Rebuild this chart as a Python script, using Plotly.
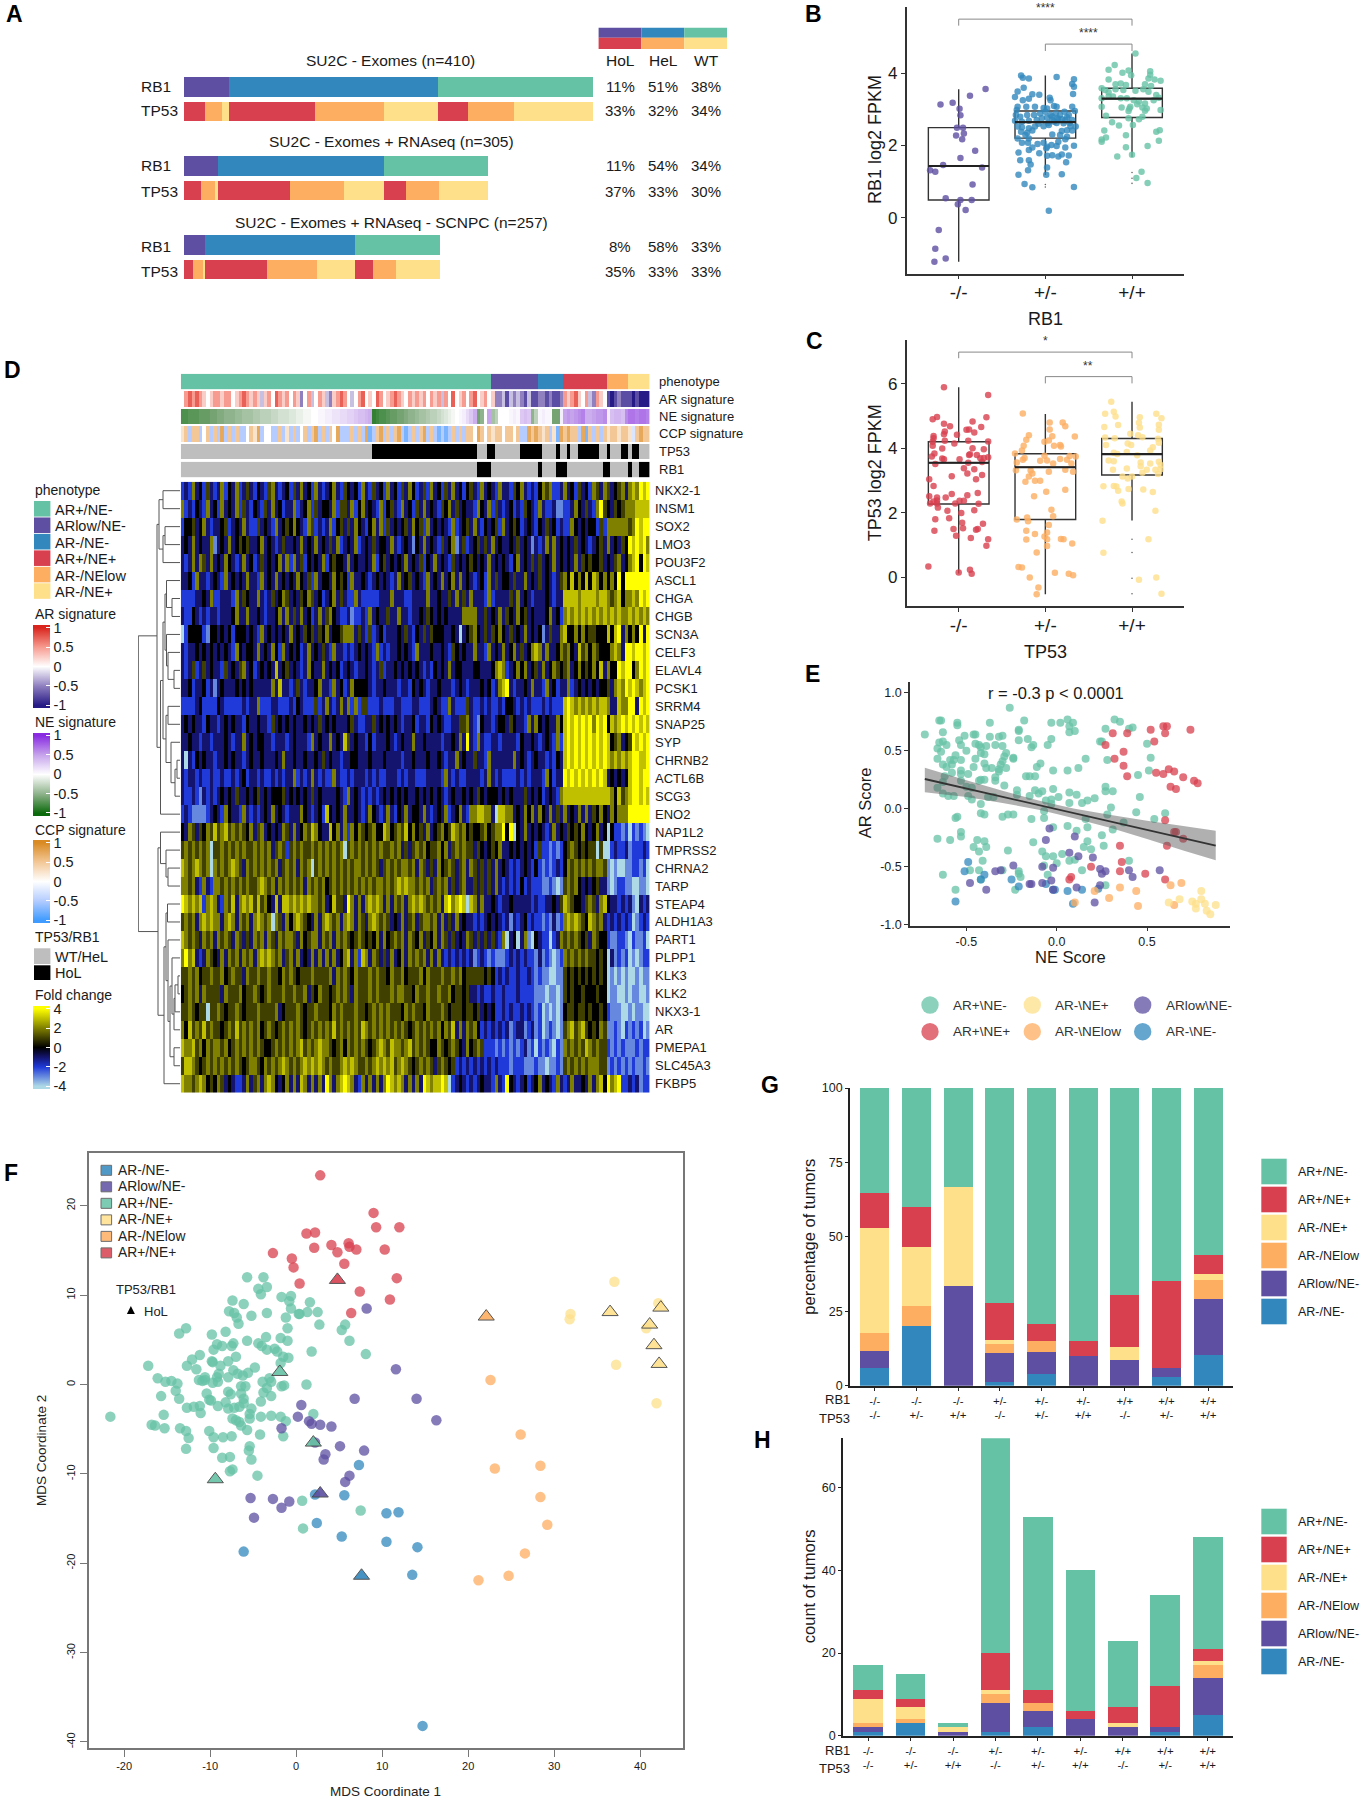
"""Multi-panel figure: RB1/TP53 alteration bars, expression boxplots, phenotype heatmap,
AR/NE scatter, MDS map and per-genotype stacked bars. Everything sits on one pixel-placed canvas."""
import plotly.graph_objects as go

W, H = 1361, 1800
GREEN, RED, YELLOW = "#66C2A5", "#D8404F", "#FEE08B"
ORANGE, PURPLE, BLUE = "#FDAE61", "#5E4FA2", "#3288BD"
FONT = "Liberation Sans"

# --- panel A: sample counts per segment
A_TITLES = ["SU2C - Exomes (n=410)", "SU2C - Exomes + RNAseq (n=305)", "SU2C - Exomes + RNAseq - SCNPC (n=257)"]
A_RB1 = [[45, 210, 155], [34, 166, 105], [21, 150, 86]]
A_TP53 = [[21, 17, 7, 86, 69, 55, 30, 46, 79], [17, 14, 3, 72, 54, 40, 23, 33, 49], [9, 10, 2, 62, 50, 38, 18, 24, 44]]
A_PCT_RB1 = [["11%", "51%", "38%"], ["11%", "54%", "34%"], ["8%", "58%", "33%"]]
A_PCT_TP53 = [["33%", "32%", "34%"], ["37%", "33%", "30%"], ["35%", "33%", "33%"]]
A_ROWS = [0, 1, 3.23, 4.23, 6.46, 7.46]

# --- panels B, C: box stats (q1, median, q3, low, high) and jittered samples
GENO = ["-/-", "+/-", "+/+"]
B_BOX = [(0.49, 1.43, 2.49, -1.22, 3.55), (2.2, 2.64, 2.95, 1.18, 3.93), (2.77, 3.29, 3.58, 1.68, 4.54)]
C_BOX = [(2.27, 3.55, 4.2, 0.12, 5.89), (1.79, 3.41, 3.83, -0.53, 5.06), (3.17, 3.82, 4.3, 1.76, 5.44)]
B_HOM = [(.79, 3.13), (.93, 3.18), (1.13, 3.37), (1.31, 3.56), (1.01, 3.01), (1.02, 2.83), (.98, 2.49), (1.05, 2.49),
         (.97, 2.27), (1.06, 2.33), (1.04, 2.17), (1.19, 1.85), (1.02, 1.65), (.82, 1.46), (.67, 1.31), (.73, 1.27),
         (1.27, 1.39), (1.16, .92), (.85, .54), (1.02, .49), (1.15, .49), (.99, .37), (1.08, .21), (.77, -.34),
         (.73, -.86), (.85, -1.13), (.72, -1.22)]
B_HET = [(1.72, 3.93), (1.74, 3.87), (1.81, 3.85), (2.13, 3.89), (2.33, 3.83), (2.31, 3.7), (2.33, 3.62), (1.68, 3.49),
         (1.75, 3.59), (1.85, 3.41), (1.93, 3.4), (1.81, 3.29), (1.65, 3.34), (1.74, 3.25), (2.05, 3.32), (2.06, 3.25),
         (2.32, 3.42), (1.68, 3.07), (1.67, 2.98), (1.78, 3.07), (1.88, 3.07), (1.98, 3.03), (2.02, 3.02), (2.1, 3.09),
         (2.13, 3.07), (2.22, 2.93), (2.31, 3.07), (2.34, 2.95), (1.66, 2.84), (1.71, 2.79), (1.79, 2.84), (1.87, 2.84),
         (1.94, 2.88), (2.0, 2.93), (2.06, 2.84), (2.12, 2.88), (2.17, 2.84), (2.27, 2.84), (1.65, 2.68), (1.73, 2.65),
         (1.81, 2.68), (1.9, 2.7), (1.96, 2.75), (2.02, 2.77), (2.08, 2.7), (2.15, 2.72), (2.23, 2.7), (2.31, 2.7),
         (1.68, 2.52), (1.73, 2.5), (1.81, 2.47), (1.88, 2.52), (1.98, 2.53), (2.04, 2.56), (2.1, 2.65), (2.21, 2.61),
         (2.29, 2.53), (2.35, 2.52), (1.72, 2.38), (1.79, 2.35), (1.85, 2.41), (2.19, 2.4), (2.25, 2.42), (2.31, 2.41),
         (1.68, 2.19), (1.77, 2.29), (1.81, 2.19), (2.08, 2.3), (2.17, 2.29), (2.25, 2.24), (1.73, 2.07), (1.8, 2.07),
         (2.07, 2.01), (2.15, 2.1), (2.23, 2.17), (2.33, 1.99), (1.85, 1.94), (1.91, 2.04), (1.98, 2.07), (2.02, 1.96),
         (2.13, 1.98), (2.23, 1.94), (1.69, 1.8), (1.81, 1.87), (1.93, 1.78), (2.01, 1.92), (2.02, 1.71), (2.08, 1.73),
         (2.15, 1.69), (2.19, 1.75), (2.27, 1.72), (1.71, 1.59), (1.81, 1.59), (1.83, 1.47), (2.24, 1.53), (2.02, 1.39),
         (1.8, 1.31), (1.69, 1.19), (2.01, 1.19), (2.19, 1.2), (1.76, .93), (1.85, .84), (2.33, .85), (2.04, .19),
         (2.08, 2.8), (2.14, 2.75), (2.19, 2.72), (2.25, 2.78), (2.03, 2.62), (2.13, 2.62), (2.28, 2.62), (1.92, 2.6)]
B_WT = [(3.04, 4.54), (2.8, 4.22), (2.73, 4.09), (2.89, 4.01), (2.96, 4.07), (2.99, 3.94), (3.21, 4.05), (3.21, 3.95),
        (2.73, 3.82), (3.19, 3.85), (3.26, 3.82), (3.33, 3.79), (2.81, 3.69), (2.87, 3.71), (2.93, 3.67), (3.15, 3.69),
        (3.22, 3.64), (2.65, 3.58), (2.69, 3.53), (2.73, 3.47), (2.81, 3.55), (2.9, 3.53), (3.04, 3.51), (3.13, 3.55),
        (3.19, 3.48), (3.28, 3.39), (3.31, 3.32), (2.65, 3.3), (2.73, 3.35), (2.78, 3.35), (2.87, 3.3), (2.94, 3.3),
        (3.02, 3.25), (3.08, 3.21), (3.15, 3.16), (3.25, 3.25), (2.65, 3.07), (2.88, 3.05), (2.98, 3.07), (3.06, 3.14),
        (3.12, 3.05), (3.17, 3.02), (3.33, 2.98), (2.7, 2.82), (2.96, 2.95), (2.97, 3.02), (3.15, 2.96), (3.12, 2.79),
        (2.96, 2.75), (3.08, 2.72), (2.77, 2.64), (2.85, 2.55), (3.01, 2.56), (2.68, 2.41), (3.32, 2.42), (3.28, 2.38),
        (2.7, 2.22), (2.65, 2.16), (2.65, 2.1), (2.93, 2.28), (3.31, 2.13), (2.93, 1.95), (3.18, 1.98), (2.83, 1.69),
        (3.0, 1.74), (3.11, 1.27), (3.05, 1.1), (3.18, .96)]
B_OUT = [(2, .92), (2, .85), (3, 1.25), (3, 1.09), (3, .95)]
C_HOM = [(.83, 5.89), (1.34, 5.65), (.7, 4.9), (.75, 4.97), (1.32, 4.96), (.83, 4.76), (.9, 4.68), (1.16, 4.83), (1.26, 4.66),
         (.84, 4.52), (.83, 4.43), (1.09, 4.57), (1.12, 4.58), (1.18, 4.49), (.71, 4.38), (.71, 4.31), (.98, 4.42), (.7, 4.2),
         (.84, 4.23), (.95, 4.15), (1.11, 4.23), (1.34, 4.21), (.7, 4.08), (.81, 3.99), (1.29, 3.97), (1.16, 4.0), (.72, 3.84),
         (.69, 3.74), (.83, 3.66), (.81, 3.68), (1.01, 3.66), (1.12, 3.79), (1.13, 3.81), (1.21, 3.79), (1.25, 3.69), (1.34, 3.72),
         (1.29, 3.7), (1.27, 3.57), (1.11, 3.55), (.73, 3.51), (1.06, 3.38), (1.18, 3.35), (.92, 3.13), (1.1, 3.22), (1.27, 3.17),
         (.66, 3.04), (1.2, 3.04), (.71, 2.83), (.92, 2.58), (.66, 2.51), (.75, 2.47), (.75, 2.38), (.71, 2.35), (.67, 2.29),
         (.75, 2.29), (.85, 2.47), (1.22, 2.61), (1.1, 2.54), (.96, 2.29), (1.01, 2.37), (1.06, 2.37), (1.23, 2.28), (.76, 2.16),
         (.87, 2.06), (1.03, 1.99), (1.18, 2.08), (.73, 1.8), (.89, 1.83), (1.04, 1.69), (1.28, 1.66), (1.05, 1.52), (.72, 1.44),
         (.94, 1.5), (1.22, 1.5), (1.2, 1.47), (.97, 1.29), (1.14, 1.22), (1.34, 1.18), (1.32, .98), (.65, .33), (1.0, .15),
         (1.13, .23), (1.15, .11)]
C_HET = [(1.74, 5.08), (2.05, 4.8), (2.2, 4.8), (2.23, 4.68), (2.05, 4.58), (1.81, 4.4), (2.08, 4.37), (2.34, 4.36), (1.78, 4.26),
         (1.99, 4.2), (2.04, 4.24), (1.75, 4.08), (2.1, 4.08), (2.17, 4.1), (2.18, 4.05), (1.73, 3.93), (1.65, 3.84), (1.99, 3.77),
         (1.76, 3.7), (1.74, 3.64), (2.28, 3.76), (2.35, 3.74), (1.67, 3.56), (1.94, 3.61), (2.02, 3.62), (2.09, 3.53), (2.17, 3.67),
         (2.25, 3.64), (2.3, 3.53), (1.66, 3.32), (1.83, 3.31), (1.85, 3.22), (2.04, 3.27), (2.23, 3.33), (2.32, 3.27), (1.81, 3.12),
         (1.77, 2.96), (1.88, 2.99), (1.94, 2.99), (2.23, 2.71), (2.01, 2.65), (1.87, 2.51), (2.07, 2.09), (2.09, 1.89), (1.67, 1.79),
         (1.79, 1.85), (1.8, 1.74), (2.04, 1.62), (1.78, 1.44), (1.88, 1.34), (2.02, 1.39), (1.99, 1.26), (2.02, 1.18), (1.78, 1.17),
         (2.18, 1.19), (2.21, 1.18), (2.31, 1.05), (2.02, .97), (1.9, .77), (1.69, .32), (1.73, .3), (2.11, .14), (2.27, .11),
         (2.32, .06), (1.82, -.01), (1.92, -.32), (1.9, -.53)]
C_WT = [(2.76, 5.44), (2.69, 5.07), (2.79, 5.13), (2.81, 4.98), (3.28, 5.07), (3.34, 4.93), (3.09, 4.96), (3.08, 4.79), (3.31, 4.73),
        (2.84, 4.72), (2.68, 4.66), (3.09, 4.64), (3.31, 4.57), (2.98, 4.45), (3.07, 4.4), (3.12, 4.34), (2.69, 4.33), (2.8, 4.31),
        (3.3, 4.29), (2.95, 4.15), (2.99, 4.1), (2.7, 4.1), (3.31, 4.17), (3.24, 4.03), (2.79, 3.86), (2.83, 3.82), (2.94, 3.88),
        (3.06, 3.78), (3.21, 3.93), (2.73, 3.62), (2.79, 3.6), (3.1, 3.56), (3.21, 3.53), (3.31, 3.58), (3.1, 3.44), (3.33, 3.48),
        (2.78, 3.33), (2.94, 3.37), (3.17, 3.33), (3.27, 3.33), (3.33, 3.35), (3.12, 3.24), (3.3, 3.2), (2.89, 3.12), (3.0, 3.12),
        (2.95, 3.06), (2.67, 2.82), (2.79, 2.83), (2.82, 2.81), (2.84, 2.68), (2.96, 2.74), (3.13, 2.72), (3.24, 2.64), (2.88, 2.35),
        (2.89, 2.29), (3.27, 2.06), (2.66, 1.75), (3.19, 1.18), (2.67, .76), (3.08, -.08), (3.28, -.01), (3.34, -.51)]
C_OUT = [(3, 1.18), (3, .77), (3, -.03), (3, -.51)]

# --- panel D: one digit per column, level = digit - 4 (fold change)
GENES = ["NKX2-1", "INSM1", "SOX2", "LMO3", "POU3F2", "ASCL1", "CHGA", "CHGB", "SCN3A", "CELF3", "ELAVL4", "PCSK1", "SRRM4",
         "SNAP25", "SYP", "CHRNB2", "ACTL6B", "SCG3", "ENO2", "NAP1L2", "TMPRSS2", "CHRNA2", "TARP", "STEAP4", "ALDH1A3",
         "PART1", "PLPP1", "KLK3", "KLK2", "NKX3-1", "AR", "PMEPA1", "SLC45A3", "FKBP5"]
HEAT_ROWS = [
    "2326342532 3624362353 2432563234 2536342632 3463254342 6325342634 2536423526 3425363424 5326343263 3254632324 6562236342 5342653653 4563676878",
    "6232432634 2634362532 4325363423 3623462534 4362553624 6343262453 2634253634 3254635343 3264362532 3423254326 3223112236 4353268543 5456667777",
    "2445346323 3452343632 2534326345 4643265232 3624535364 3246362534 3453645263 4343262345 3632434526 3454234324 3534232264 3434425266 6666568788",
    "3436343361 3436345453 3463432353 3436343634 3536234362 3435344363 2343143634 3253461352 3453536343 3435343132 3636343435 3432345363 4354878786",
    "3236365363 4364323634 2353434636 2635243436 2454436343 3436245343 4363435243 6343253434 5434363434 3246343535 3436343436 3545445343 5634678487",
    "3342633234 3263434363 3263436343 4364352634 4364542633 4323434323 6345343263 4363463634 3234263534 4353363435 3432356474 6474764646 4848888888",
    "2222334362 2333263543 3632353465 3435465342 3463532263 2222233363 3322333363 3433536353 6333262333 3536343233 3432337777 6777767765 6746676878",
    "3224323233 2333463363 3432334636 3536342363 5643223122 3263433533 6332334354 3434333366 6633534363 5436453433 3463426767 6767676767 6766767676",
    "0244442144 3434244434 3263434343 6343545354 6344566635 3252342333 4353243535 4443343034 5643535464 3534363434 1353367446 4645544474 7836464838",
    "3233434343 4343264344 3634364263 4342363435 3263323234 3432623233 4343263334 3343254343 3633263436 3463534676 3633465643 7564654446 7638878878",
    "3235235343 3253435634 2343437345 3432364336 3434234323 3432352334 3434343232 4343634433 3443334676 2346463453 6346545634 6454647364 4878846878",
    "3342334231 3433343434 3333363733 2353233463 3263423644 4432334333 2332434323 3433323432 3334342367 8323343633 2634233623 4343434453 6768787678",
    "2222342222 4322222323 3622233222 3243222523 6323636262 5522232223 3222332223 4322632225 3223232232 4432323222 3232227876 7676767763 3766883878",
    "3434332433 2343433243 3433253434 3433434353 4343334532 2335343434 3233423324 3432233556 3214332344 3543326364 3433647878 7878687847 6787878787",
    "3343323323 3343233634 3443323332 3433326343 3634375343 3242333432 3433633433 3323343638 3263223323 3332433432 3432627878 7878787874 5634587878",
    "3032434332 3343433234 3343334363 3433433435 3433233443 3343334333 3233433343 3432336343 3533263333 3363432343 3232437878 7878787876 7676788778",
    "3233232232 2322323423 3232232323 3623236323 2263223233 3232322333 2323322233 3326323223 3332363232 2223232333 2642338787 8787878734 3434788788",
    "3223213232 3434353343 4534344453 4343435343 3334326343 2323234343 4343343434 3432343343 4354344434 3433353434 2343267777 7777777776 4756788787",
    "2321111234 3264332632 3234363432 3336432342 7434363343 2364323632 4363443632 3436234632 6677663077 6634364636 4363536343 6363546436 4666888888",
    "4365354657 5675656546 3563434365 3634657643 3746362646 5456447645 6574645363 4564576564 5445645668 4804363434 3236343545 4643463404 2212021210",
    "5656565605 5656565655 6565635652 5656556565 6565605656 5656565565 6353565645 5646356565 5354345463 3434343425 2212124565 4545505002 3223122232",
    "7656765606 5656765365 6565656356 5636560565 6565656566 5656535656 5665636535 3645653563 6535353634 3232343242 1212324656 5656566510 1001122120",
    "6656326326 6565656565 5676563656 5656365656 4565656565 6565665656 7676656563 5656353563 3535353632 3232423222 1121015656 4343453310 1221100110",
    "8767672676 3265736767 5756437377 6767676656 3475538636 3676763636 5636767656 5637867870 7636334323 3433333232 2334357654 4356536743 3232310323",
    "5656367676 6367636563 6765606536 4676543636 7656367636 5367656534 3635635665 6363536343 3232343432 3132342322 1213126767 6547656323 2323201232",
    "7656536563 6565365353 6563653656 6536456636 5636565456 5454636456 5636546354 6365353436 5353535326 0340361043 2202365656 5453654421 1221021120",
    "6867323654 3636563656 3676765635 6363436363 6363467362 7636535363 4636565636 3632323232 3123212111 2323232213 1210126565 6565545403 1212010122",
    "5565645565 5645655365 5655655465 6545556555 5636565465 5565655465 5645556465 5565565645 5555454232 3223223212 1100115454 5454545401 0101001011",
    "4565636555 5365556455 6545655565 5655635465 5456565365 5565655565 6655465565 5655645545 3323223223 2223222211 1011015454 4544454401 1001011001",
    "5565455055 6545565455 5655556345 5565455655 5465655565 5456565655 5465655465 5565455545 5453434223 2322323212 0101014554 5545445421 1100101100",
    "6475657565 5456575656 5645654565 6565456565 6575656565 7656565656 5654565656 5646573636 5642323232 3123312312 0121015675 6754546511 2102121201",
    "7667564656 6564565656 5654456565 6567565676 6545646565 6545676576 6567565654 4654565436 4565222121 2121231202 1210216565 6576565521 2121112122",
    "5776545656 5656565456 6546565676 5656767676 5655676765 5656767675 6765456565 3565452323 2323232322 2122211121 1011215656 5656665512 1212121121",
    "7665676454 6534322363 5636764346 3637636363 8636787632 6363636876 7636363876 7787023432 3234332632 8432342346 3432632363 3436367486 7822323122",
]
# column annotation tracks (same 130 columns); signature level = (digit - 4) / 4
PHENO_COLS = "0" * 86 + "1" * 13 + "2" * 7 + "3" * 12 + "4" * 6 + "5" * 6
AR_SIG = ("4676765456 6566456765 6535647656 4652463465 3256764346 7454764567 6546565646 5636474564 "
          "6745645223 1323213112 2121126567 5463265410 1211101000")
CCP_SIG = ("5626624626 2726262246 5724422625 2624626726 2647222626 2712672626 7212626726 2121262626 "
           "6476465664 6646227676 5625176766 2716262656 6566536766")
NE_SIG = [-.75, -.75, -.7, -.7, -.7, -.65, -.65, -.65, -.6, -.6, -.55, -.55, -.5, -.5, -.5, -.45, -.45, -.4, -.4, -.4,
          -.35, -.35, -.3, -.3, -.3, -.25, -.25, -.2, -.2, -.2, -.15, -.15, -.1, -.1, -.05, -.05, 0, 0, .05, .05,
          .1, .1, .15, .15, .2, .2, .25, .25, .3, .35, .35, .4, .45,
          -.85, -.8, -.75, -.75, -.7, -.65, -.65, -.6, -.6, -.55, -.5, -.5, -.45, -.4, -.4, -.35, -.3, -.3, -.25, -.2,
          -.15, -.1, -.05, 0, .05, .1, .2, .3, .45,
          -.6, -.5, 0, .5, -.4, -.3, 0, 0, 0, .05, .1, .05, .3, .35, .3, -.5, -.3, .05, .1, .05, .05, -.6, -.6, .1,
          .5, .55, .5, .55, .6, .65, .45, .45, .5, .55, .55, .6, .1, .35, .4, .4, .35, .6, .7, .7, .65, .7, .7, .65]
TP53_HOL = ("0000000000 0000000000 0000000000 0000000000 0000000000 0001111111 1111111111 1111111111 "
            "1100011000 0000111111 0000100100 1111110010 0011011000")
RB1_HOL = ("0000000000 0000000000 0000000000 0000000000 0000000000 0000000000 0000000000 0000000000 "
           "0011110000 0000000001 0000111000 0000000110 0000100111")
TRACK_NAMES = ["phenotype", "AR signature", "NE signature", "CCP signature", "TP53", "RB1"]
# gene dendrogram: (merge height in canvas px, left, right), leaves are row numbers
GENE_TREE = (41.7,
             (23, (21, (17, 0, 1), (17, (15, 2, 3), 4)),
              (19.5, (17, (15, (13.5, 5, (8, 6, 7)), (13.5, 8, (12, 9, (6, 10, 11)))),
                      (14, (12, 12, 13), (9, 14, (5, (3, 15, 16), 17)))), 18)),
             (22, (19.5, 19, (14, 20, (12, 21, 22))),
              (16, (14, (12.5, 23, 24), (12, 25, (10, (8, 26, (6, (5, (2, 27, 28), 29), 30)), (6, 31, 32)))), 33)))

# --- panel E: NE score, AR score
E_GREEN = [(-.73, .64), (-.65, .76), (-.64, .76), (-.55, .74), (-.55, .72), (-.37, .74), (-.18, .76), (-.26, .87), (-.03, .74),
           (.02, .74), (.06, .77), (.09, .74), (.07, .71), (.07, .66), (.1, .67), (.27, .69), (.32, .77), (.35, .75), (.4, .69),
           (.42, .7), (-.63, .66), (-.51, .63), (-.46, .64), (-.45, .64), (-.37, .62), (-.32, .62), (-.3, .63), (-.21, .68),
           (-.21, .67), (-.21, .59), (-.16, .6), (-.14, .53), (-.13, .55), (-.03, .6), (-.05, .55), (.24, .58), (.25, .58),
           (.5, .56), (-.54, .59), (-.53, .55), (-.65, .57), (-.63, .58), (-.61, .55), (-.66, .52), (-.64, .49), (-.45, .56),
           (-.43, .55), (-.42, .53), (-.39, .54), (-.34, .55), (-.3, .54), (-.5, .5), (-.56, .46), (-.4, .47), (-.42, .48),
           (-.28, .48), (-.24, .44), (-.24, .43), (-.66, .43), (-.63, .38), (-.59, .42), (-.57, .42), (-.58, .38), (-.53, .42),
           (-.45, .43), (-.4, .39), (-.29, .45), (-.3, .41), (-.31, .38), (.16, .43), (.28, .42), (.52, .44), (-.61, .36),
           (-.58, .31), (-.53, .33), (-.53, .3), (-.49, .3), (-.46, .36), (-.39, .35), (-.36, .35), (-.32, .34), (-.28, .35),
           (-.32, .32), (-.11, .36), (-.09, .39), (-.02, .33), (.06, .33), (.12, .35), (.51, .33), (.45, .29), (-.17, .28),
           (-.15, .28), (-.12, .28), (-.34, .27), (-.34, .24), (-.42, .25), (-.4, .25), (-.43, .24), (-.62, .28), (-.63, .23),
           (-.53, .24), (-.29, .2), (-.5, .19), (-.47, .18), (-.66, .18), (-.63, .13), (-.6, .11), (-.57, .11), (-.49, .11),
           (-.47, .08), (-.38, .1), (-.35, .1), (-.42, .04), (-.22, .16), (-.22, .12), (-.15, .11), (-.12, .16), (-.1, .13),
           (-.08, .15), (-.02, .17), (.07, .14), (.11, .12), (.27, .19), (.27, .15), (.31, .15), (.46, .1), (-.06, .07),
           (.01, .1), (-.03, .08), (.07, .05), (.14, .05), (.17, .07), (.21, .09), (-.03, .04), (.3, .01), (-.42, -.04),
           (-.4, -.05), (-.56, -.08), (-.55, -.07), (-.3, -.07), (-.27, -.05), (-.24, -.05), (-.14, -.09), (-.07, -.02),
           (-.07, -.08), (.28, -.05), (.44, -.03), (.6, -.04), (.54, -.09), (.16, -.09), (.37, -.12), (-.02, -.16), (.06, -.15),
           (.17, -.16), (.11, -.19), (.31, -.18), (-.53, -.2), (-.53, -.24), (-.66, -.26), (-.59, -.27), (.25, -.23), (-.44, -.27),
           (-.4, -.28), (-.46, -.33), (-.39, -.33), (-.13, -.29), (.17, -.28), (.15, -.33), (.19, -.35), (.26, -.32), (-.43, -.37),
           (-.27, -.36), (-.08, -.37), (-.41, -.45), (-.06, -.41), (-.02, -.41), (.03, -.39), (-.07, -.49), (0, -.47), (.07, -.45),
           (.1, -.44), (.14, -.53), (.4, -.45), (-.48, -.53), (-.43, -.53), (-.3, -.53), (-.63, -.57), (-.21, -.54), (-.21, -.56),
           (-.2, -.59), (-.05, -.57), (-.42, -.61), (-.56, -.7), (-.23, -.7), (.27, -.66)]
E_BLUE = [(-.49, -.46), (-.51, -.54), (-.4, -.57), (-.42, -.61), (-.25, -.61), (-.21, -.67), (-.06, -.65), (-.02, -.7), (-.01, -.7),
          (.06, -.71), (.14, -.7), (.23, -.69), (-.56, -.8), (.09, -.82)]
E_PURPLE = [(-.04, -.17), (-.06, -.27), (.1, -.24), (.07, -.38), (.12, -.41), (.2, -.42), (-.24, -.49), (-.34, -.54), (-.31, -.53),
            (-.08, -.5), (-.02, -.51), (.24, -.52), (.27, -.54), (.25, -.56), (.4, -.53), (.57, -.53), (.42, -.59), (-.48, -.64),
            (-.39, -.7), (-.15, -.65), (-.14, -.65), (-.08, -.64), (-.03, -.62), (.24, -.66), (-.02, -.7), (.11, -.68), (.21, -.81)]
E_RED = [(.31, .65), (.39, .65), (.52, .68), (.59, .71), (.61, .71), (.6, .65), (.74, .68), (.54, .58), (.27, .55), (.37, .49),
         (.32, .43), (.37, .37), (.39, .28), (.55, .31), (.59, .3), (.62, .34), (.65, .32), (.7, .27), (.76, .24), (.78, .22),
         (.63, .19), (.66, .17), (.6, -.1), (.65, -.2), (.66, -.2), (.7, -.26), (.61, -.32), (.35, -.32), (.36, -.46), (.19, -.5),
         (.35, -.54), (.49, -.56), (.6, -.61), (.08, -.59), (.07, -.61)]
E_ORANGE = [(.63, -.66), (.69, -.64), (.35, -.68), (.44, -.71), (.21, -.71), (.29, -.77), (.45, -.84), (.65, -.83), (.1, -.81)]
E_YELLOW = [(.8, -.71), (.68, -.78), (.62, -.81), (.75, -.8), (.8, -.78), (.82, -.82), (.88, -.83), (.77, -.86), (.83, -.88),
            (.85, -.91), (.77, -.82)]
E_FIT_X = [-.73, -.5, -.3, -.1, 0, .1, .3, .5, .7, .88]
E_FIT_Y = [.256, .173, .102, .03, -.005, -.04, -.112, -.183, -.255, -.319]
E_FIT_HI = [.353, .245, .155, .07, .035, .0, -.055, -.105, -.15, -.19]
E_FIT_LO = [.141, .1, .05, -.01, -.045, -.085, -.167, -.262, -.36, -.445]

# --- panel F: MDS coordinates, circles and HoL triangles per phenotype
F_RED = [(2.8, 23.4), (9, 19.2), (9.3, 17.6), (12, 17.6), (1.2, 16.9), (2.2, 17), (6.1, 15.8), (6.2, 15.4), (4.1, 15.6), (2.1, 15.3),
         (4.8, 14.8), (7, 15.1), (10.3, 15.1), (-2.7, 14.7), (-.5, 14.1), (-.3, 13.1), (5.6, 13.5), (11.7, 11.9), (.4, 11.3),
         (7.4, 10.4), (10.9, 9.5), (6.4, 8)]
F_RED_HOL = [(4.8, 11.7)]
F_YELLOW = [(37, 11.5), (42.1, 9.1), (31.9, 7.9), (31.8, 7.3), (40.7, 6.3), (37.2, 2.2), (41.9, -2.1)]
F_YELLOW_HOL = [(36.5, 8.1), (42.4, 8.6), (41.1, 6.7), (41.6, 4.4), (42.2, 2.3)]
F_ORANGE = [(22.6, .5), (26.1, -5.6), (23.1, -9.4), (28.4, -9.1), (28.4, -12.6), (29.2, -15.7), (26.6, -18.9), (24.7, -21.4), (21.2, -21.9)]
F_ORANGE_HOL = [(22.1, 7.6)]
F_PURPLE = [(8.2, 8.5), (11.6, 1.7), (6.8, -1.6), (14, -1.6), (16.3, -4), (.6, -2.3), (.2, -3.6), (1.5, -4.1), (1.8, -4.4), (2.8, -4.5),
            (4.1, -4.7), (-1.7, -4.9), (2.2, -6.5), (5.1, -6.9), (7.9, -7.4), (3.4, -7.8), (3.2, -8.4), (6.2, -10.2), (5.7, -10.9),
            (-5.3, -12.7), (-2.7, -12.8), (-.8, -13.1), (-1.7, -13.8), (-4.9, -14.9)]
F_PURPLE_HOL = [(2.8, -12.2)]
F_BLUE = [(7.3, -9), (2.2, -12.3), (5.6, -12.4), (10.5, -14.4), (11.9, -14.3), (2.4, -15.5), (5.3, -17), (10.5, -17.6), (14.1, -18.2),
          (-6.1, -18.7), (13.5, -21.3), (14.7, -38.2)]
F_BLUE_HOL = [(7.6, -21.4)]
F_GREEN_HOL = [(-1.9, 1.4), (2, -6.5), (-9.4, -10.6)]
F_GREEN = [(-5.7, 12), (-3.8, 12), (-4.4, 10.7), (-3.4, 10.9), (-4.1, 10.1), (-7.4, 9.4), (-6.1, 9), (-1.7, 9.8), (-.6, 9.9), (-.8, 9.3),
           (1.6, 9.2), (-.6, 8.5), (-7.8, 8.2), (-7.2, 8), (-6.9, 7.5), (-5.2, 7.7), (-3.4, 8), (-1.2, 7.5), (.3, 7.9), (.4, 7.9), (1.3, 8.1),
           (2.5, 8.1), (-6.7, 6.8), (2.7, 6.7), (-1, 6.3), (5.7, 6.7), (5.3, 6.1), (-12.8, 6.3), (-13.6, 5.7), (-9.8, 5.6), (-8.2, 5.9),
           (-7.3, 4.6), (-5.7, 4.9), (-3.5, 5.3), (-1.8, 5.2), (-1, 4.9), (6.2, 4.9), (1.8, 3.7), (8.1, 3.4), (-9.2, 4.5), (-9.6, 3.9),
           (-8.6, 4.3), (-7.5, 4.3), (-4.4, 4.6), (-4, 4.3), (-2.5, 4), (-2.2, 3.7), (-3.4, 3.9), (-1.5, 3.1), (-.9, 3), (-11.2, 3.3),
           (-12.1, 2.8), (-12.7, 2.1), (-17.2, 2.1), (-11.6, 1.7), (-9.8, 2.6), (-9.7, 2.5), (-7, 3.1), (-8.8, 2.1), (-7.9, 2.6), (-4.8, 1.9),
           (-1.8, 2.4), (-9, 1.2), (-7.3, 1.6), (-6.8, 1.2), (-5.6, 1.3), (-6.2, 1), (-11.3, .5), (-10.6, .5), (-10.9, .4), (-10.6, .8),
           (-9.2, .8), (-7.9, .8), (-16.1, .7), (-15.2, .3), (-14.5, .4), (-13.8, .1), (-9.7, .2), (-9.1, .3), (-3.1, .7), (-2.9, .3), (-3.9, .3),
           (-6.4, -.2), (-5.9, -.2), (1.2, 0), (-1.7, -.2), (-1.4, -.1), (-7.9, -.8), (-14, -.7), (-10.4, -1), (-7.6, -1.1), (-6.4, -1),
           (-15.7, -1.3), (-13.6, -1.6), (-10.1, -1.7), (-9.9, -1.8), (-6.1, -1.6), (-2.9, -1.3), (-3.8, -.9), (-3.4, -.4), (-4.1, -1.9),
           (-8.2, -2), (-11.2, -2.4), (-11.9, -2.5), (-12.7, -2.6), (-11.1, -3.2), (-9.1, -2.4), (-7.9, -2.7), (-7.2, -2.6), (-6.6, -2.5),
           (-6.1, -2.1), (-5.2, -2.7), (-5.4, -3.3), (2, -3.3), (-15.4, -3.4), (-21.6, -3.6), (-7.4, -3.8), (-7, -4), (-6.6, -4.2), (-5.4, -3.8),
           (-4.1, -3.6), (-2.9, -3.5), (-1.8, -3.6), (-1.2, -4.1), (-6.4, -4.6), (-5.7, -5.1), (-16.8, -4.5), (-16.4, -4.6), (-15.3, -4.9),
           (-13.5, -4.9), (-12.8, -5.2), (-10.1, -5.2), (-12.5, -6), (-9.6, -5.9), (-8.5, -5.9), (-7.5, -5.8), (-4.2, -5.6), (-1.5, -5.8),
           (-12.8, -7.2), (-9.6, -7.1), (-5.4, -6.9), (-5.5, -7.4), (-7.7, -8.1), (-8.6, -8.2), (-5.2, -8.4), (-7.4, -9.5), (-7.7, -9.7),
           (-4.5, -10.2), (.7, -13), (7.5, -14.1), (.8, -16.1)]

# --- panels G, H: tumor counts per genotype
RB1_LABELS = ["-/-", "-/-", "-/-", "+/-", "+/-", "+/-", "+/+", "+/+", "+/+"]
TP53_LABELS = ["-/-", "+/-", "+/+", "-/-", "+/-", "+/+", "-/-", "+/-", "+/+"]
COUNT_BLUE = [1, 3, 0, 1, 2, 0, 0, 1, 5]
COUNT_PURPLE = [1, 0, 1, 7, 4, 4, 2, 1, 9]
COUNT_ORANGE = [1, 1, 0, 2, 2, 0, 0, 0, 3]
COUNT_YELLOW = [6, 3, 1, 1, 0, 0, 1, 0, 1]
COUNT_RED = [2, 2, 0, 9, 3, 2, 4, 10, 3]
COUNT_GREEN = [6, 6, 1, 52, 42, 34, 16, 22, 27]
STACK = [("AR-/NE-", COUNT_BLUE, BLUE), ("ARlow/NE-", COUNT_PURPLE, PURPLE), ("AR-/NElow", COUNT_ORANGE, ORANGE),
         ("AR-/NE+", COUNT_YELLOW, YELLOW), ("AR+/NE+", COUNT_RED, RED), ("AR+/NE-", COUNT_GREEN, GREEN)]

fig = go.Figure()
_axis_no = 1


def axes(x0, y0, x1, y1, xopts=None, yopts=None):
    """New axis pair filling the canvas pixel box (x0, y0)-(x1, y1)."""
    global _axis_no
    _axis_no += 1
    n = _axis_no
    hidden = dict(visible=False, showgrid=False, zeroline=False, fixedrange=True)
    xa = dict(hidden, domain=[x0 / W, x1 / W], anchor=f"y{n}", **(xopts or {}))
    ya = dict(hidden, domain=[1 - y1 / H, 1 - y0 / H], anchor=f"x{n}", **(yopts or {}))
    fig.update_layout({f"xaxis{n}": xa, f"yaxis{n}": ya})
    return f"x{n}", f"y{n}"


def shown(rng, vals, texts=None, size=12, line=1.5, ticklen=4, color="#333333", **extra):
    return dict(visible=True, range=rng, tickvals=vals, ticktext=texts if texts else [str(v) for v in vals],
                showline=True, linecolor=color, linewidth=line, ticks="outside", ticklen=ticklen, tickwidth=1,
                tickcolor=color, tickfont=dict(family=FONT, size=size, color="#1a1a1a"), **extra)


def label(x, y, text, size=13, anchor="left", color="#1a1a1a", bold=False, angle=0):
    fig.add_annotation(xref="paper", yref="paper", x=x / W, y=1 - y / H, text=f"<b>{text}</b>" if bold else text,
                       showarrow=False, xanchor=anchor, yanchor="middle", textangle=angle, borderpad=0,
                       font=dict(family=FONT, size=size, color=color))


def rect(x0, y0, x1, y1, fill, line=None, opacity=1):
    fig.add_shape(type="rect", xref="paper", yref="paper", x0=x0 / W, x1=x1 / W, y0=1 - y1 / H, y1=1 - y0 / H,
                  fillcolor=fill, opacity=opacity, line=dict(width=1 if line else 0, color=line or fill))


def dots(pts, color, xa, ya, size, opacity=.75, symbol="circle", edge=None):
    xs, ys = zip(*pts)
    fig.add_trace(go.Scatter(x=xs, y=ys, mode="markers", xaxis=xa, yaxis=ya, hoverinfo="skip",
                             marker=dict(size=size, color=color, opacity=opacity, symbol=symbol,
                                         line=dict(width=1 if edge else 0, color=edge or color))))


def digits(s):
    return [int(c) for c in s.replace(" ", "")]


def stops(points, r):
    out = [[0, points[0][1]]]
    for v, c in points:
        out.append([(v + r) / (2 * r), c])
    out.append([1, points[-1][1]])
    return out


for t, (px, py) in zip("ABCDEFGH", [(14, 14), (813, 14), (814, 341), (12, 370), (812, 674), (11, 1173), (770, 1085), (762, 1440)]):
    label(px, py, t, size=23, anchor="center", color="black", bold=True)

# ---------- A
rect(598.6, 27.7, 641.3, 37.7, PURPLE)
rect(641.3, 27.7, 684.2, 37.7, BLUE)
rect(684.2, 27.7, 727, 37.7, GREEN)
rect(598.6, 37.7, 641.3, 49, RED)
rect(641.3, 37.7, 684.2, 49, ORANGE)
rect(684.2, 37.7, 727, 49, YELLOW)
for x, t in zip([620, 663, 706], ["HoL", "HeL", "WT"]):
    label(x, 61, t, size=15.5, anchor="center")
xa, ya = axes(183.7, 75 - 2.5, 593.3, 281.7 + 2.5, dict(range=[0, 410]), dict(range=[8.06, -.6]))
fig.update_layout(barmode="stack")
RB1_COLORS = [PURPLE, BLUE, GREEN]
TP53_COLORS = [RED, ORANGE, YELLOW] * 3
for i in range(3):
    for j, (counts, cols) in enumerate([(A_RB1[i], RB1_COLORS), (A_TP53[i], TP53_COLORS)]):
        row = A_ROWS[2 * i + j]
        for c, col in zip(counts, cols):
            fig.add_trace(go.Bar(x=[c], y=[row], orientation="h", width=.8, xaxis=xa, yaxis=ya, hoverinfo="skip",
                                 marker=dict(color=col, line=dict(width=0))))
A_TITLE_Y, A_TEXT_Y = [61, 141.7, 222.7], [(86, 111), (166, 191), (246.5, 271.5)]
for i in range(3):
    label(391 if i else 390.7, A_TITLE_Y[i], A_TITLES[i], size=15.5, anchor="center")
    for y, name, pcts in zip(A_TEXT_Y[i], ["RB1", "TP53"], [A_PCT_RB1[i], A_PCT_TP53[i]]):
        label(139.6, y, name, size=15.5)
        for x, p in zip([620, 663, 706], pcts):
            label(x, y, p, size=15, anchor="center")


# ---------- B, C
def box_panel(top, bottom, yr, yvals, boxes, groups, colors, outliers, spans, stars, xname, yname, title_y, ymid):
    xo = shown([.4, 3.6], [1, 2, 3], GENO, size=19, ticklen=4, ticklabelstandoff=-3)
    yo = shown(yr, yvals, size=17, ticklen=4)
    xa, ya = axes(906.7, top, 1184, bottom, xo, yo)
    for cat, (q1, med, q3, lo, hi) in enumerate(boxes, 1):
        fig.add_trace(go.Box(x=[cat], q1=[q1], median=[med], q3=[q3], lowerfence=[lo], upperfence=[hi], width=.7,
                             whiskerwidth=0, boxpoints=False, xaxis=xa, yaxis=ya, hoverinfo="skip",
                             line=dict(color="#333333", width=1.4), fillcolor="rgba(0,0,0,0)"))
    for pts, col in zip(groups, colors):
        dots(pts, col, xa, ya, 6.5, opacity=.8)
    for cat, (q1, med, q3, lo, hi) in enumerate(boxes, 1):
        fig.add_trace(go.Scatter(x=[cat - .35, cat + .35], y=[med, med], mode="lines", xaxis=xa, yaxis=ya, hoverinfo="skip",
                                 line=dict(color="#222222", width=2.2)))
    dots(outliers, "#666666", xa, ya, 1.6, opacity=1)
    for x0, x1, yb, yt in spans:
        fig.add_trace(go.Scatter(x=[x0, x0, x1, x1], y=[yb, yt, yt, yb], mode="lines", xaxis=xa, yaxis=ya, hoverinfo="skip",
                                 line=dict(color="#888888", width=1)))
    for x, y, t in stars:
        label(x, y, t, size=12, anchor="center", color="#333333")
    label(1045, title_y, xname, size=18, anchor="center")
    label(875, ymid, yname, size=18, anchor="center", angle=-90)


box_panel(6.7, 273.7, [-1.548, 5.834], [0, 2, 4], B_BOX, [B_HOM, B_HET, B_WT], [PURPLE, BLUE, GREEN], B_OUT,
          [(1, 3, 5.31, 5.49), (2, 3, 4.61, 4.80)], [(1045, 8, "****"), (1088.3, 33, "****")],
          "RB1", "RB1 log2 FPKM", 319.3, 140)
box_panel(340, 606.3, [-.9, 7.355], [0, 2, 4, 6], C_BOX, [C_HOM, C_HET, C_WT], [RED, ORANGE, YELLOW], C_OUT,
          [(1, 3, 6.79, 6.98), (2, 3, 6.01, 6.22)], [(1045, 341, "*"), (1088.3, 366, "**")],
          "TP53", "TP53 log2 FPKM", 651.7, 473.3)

# ---------- D tracks
N_COLS = 130
TRACK_BOXES = [(373.7, 389.3), (391, 407), (409, 424.3), (426, 442), (444, 459.3), (461.7, 477.3)]
TRACK_LABEL_Y = [381.5, 399, 416.7, 434, 451.7, 469.5]
pheno_colors = [GREEN, PURPLE, BLUE, RED, ORANGE, YELLOW]
PHENO_SCALE = []
for k, c in enumerate(pheno_colors):
    PHENO_SCALE += [[k / 6, c], [(k + 1) / 6, c]]
AR_SCALE = [(-1, "#261a86"), (-.5, "#9080c0"), (0, "#ffffff"), (.5, "#f79a8f"), (1, "#d9251d")]
NE_SCALE = [(-1, "#0b6a0b"), (-.5, "#8fb38c"), (0, "#ffffff"), (.5, "#c6a4ec"), (1, "#8a2be2")]
CCP_SCALE = [(-1, "#3f9bff"), (-.5, "#b4ccff"), (0, "#ffffff"), (.5, "#f3c796"), (1, "#d98a22")]
SIG_R = 1.07
SIG_TICKS = [1, .5, 0, -.5, -1]


def sig_bar(top):
    return dict(x=33 / W, xanchor="left", xpad=0, y=1 - top / H, yanchor="top", ypad=0, len=83.3, lenmode="pixels",
                thickness=17.4, outlinewidth=0, ticks="inside", ticklen=4, tickcolor="white", tickwidth=1,
                tickvals=SIG_TICKS, ticktext=["1", "0.5", "0", "-0.5", "-1"],
                tickfont=dict(family=FONT, size=14.5, color="#1a1a1a"))


track_z = [[[int(c) for c in PHENO_COLS]],
           [[(d - 4) / 4 for d in digits(AR_SIG)]],
           [NE_SIG],
           [[(d - 4) / 4 for d in digits(CCP_SIG)]],
           [digits(TP53_HOL)],
           [digits(RB1_HOL)]]
track_style = [dict(colorscale=PHENO_SCALE, zmin=-.5, zmax=5.5, showscale=False),
               dict(colorscale=stops(AR_SCALE, SIG_R), zmin=-SIG_R, zmax=SIG_R, showscale=True, colorbar=sig_bar(625)),
               dict(colorscale=stops(NE_SCALE, SIG_R), zmin=-SIG_R, zmax=SIG_R, showscale=True, colorbar=sig_bar(732.7)),
               dict(colorscale=stops(CCP_SCALE, SIG_R), zmin=-SIG_R, zmax=SIG_R, showscale=True, colorbar=sig_bar(840)),
               dict(colorscale=[[0, "#bebebe"], [1, "#000000"]], zmin=0, zmax=1, showscale=False),
               dict(colorscale=[[0, "#bebebe"], [1, "#000000"]], zmin=0, zmax=1, showscale=False)]
for (y0, y1), z, style, name, ly in zip(TRACK_BOXES, track_z, track_style, TRACK_NAMES, TRACK_LABEL_Y):
    xa, ya = axes(180.8, y0, 649.5, y1, dict(range=[-.5, N_COLS - .5]), dict(range=[-.5, .5]))
    fig.add_trace(go.Heatmap(z=z, xaxis=xa, yaxis=ya, hoverinfo="skip", **style))
    label(658, ly, name, size=13)

# ---------- D main heatmap
heat = []
for row in HEAT_ROWS:
    vals = [d - 4 for d in digits(row)]
    heat.append((vals + vals[-1:] * N_COLS)[:N_COLS])
FOLD_R = 4.29
FOLD_SCALE = [(-4, "#add8e6"), (-2, "#1f3ad8"), (-1, "#14146e"), (0, "#000000"), (2, "#808000"), (4, "#ffff00")]
xa, ya = axes(180.8, 481.7, 649.5, 1092.7, dict(range=[-.5, N_COLS - .5]), dict(range=[len(GENES) - .5, -.5]))
fig.add_trace(go.Heatmap(z=heat, xaxis=xa, yaxis=ya, hoverinfo="skip", zmin=-FOLD_R, zmax=FOLD_R,
                         colorscale=stops(FOLD_SCALE, FOLD_R),
                         colorbar=dict(x=33 / W, xanchor="left", xpad=0, y=1 - 1006 / H, yanchor="top", ypad=0, len=83.3,
                                       lenmode="pixels", thickness=17.4, outlinewidth=0, ticks="inside", ticklen=4,
                                       tickcolor="white", tickvals=[4, 2, 0, -2, -4], ticktext=["4", "2", "0", "-2", "-4"],
                                       tickfont=dict(family=FONT, size=14.5, color="#1a1a1a"))))
for i, g in enumerate(GENES):
    label(654, 481.7 + (i + .5) * 611 / len(GENES), g, size=13)

# ---------- D dendrogram
seg_x, seg_y = [], []


def walk(node):
    """Append the bracket of a tree node, return its row position."""
    if not isinstance(node, tuple):
        return node, 0
    h, a, b = node
    ya_, ha = walk(a)
    yb_, hb = walk(b)
    seg_x.extend([ha, h, h, hb, None])
    seg_y.extend([ya_, ya_, yb_, yb_, None])
    return (ya_ + yb_) / 2, h


walk(GENE_TREE)
xa, ya = axes(138, 481.7, 180, 1092.7, dict(range=[42, 0]), dict(range=[len(GENES) - .5, -.5]))
fig.add_trace(go.Scatter(x=seg_x, y=seg_y, mode="lines", xaxis=xa, yaxis=ya, hoverinfo="skip",
                         line=dict(color="#555555", width=1)))

# ---------- D legends
label(34, 490, "phenotype", size=14)
PHENO_NAMES = ["AR+/NE-", "ARlow/NE-", "AR-/NE-", "AR+/NE+", "AR-/NElow", "AR-/NE+"]
for i, (n, c) in enumerate(zip(PHENO_NAMES, pheno_colors)):
    rect(34, 501 + i * 16.45, 50.4, 516.6 + i * 16.45, c)
    label(54.3, 509.7 + i * 16.45, n, size=14.5)
label(34, 614.3, "AR signature", size=14)
label(34, 721.7, "NE signature", size=14)
label(34, 830, "CCP signature", size=14)
label(34, 937.3, "TP53/RB1", size=14)
rect(34, 948.3, 50.4, 964, "#bebebe")
rect(34, 965.3, 50.4, 980, "#000000")
label(54.3, 956.7, "WT/HeL", size=14.5)
label(54.3, 973.3, "HoL", size=14.5)
label(34, 995.3, "Fold change", size=14)

# ---------- E
xa, ya = axes(910, 681.7, 1230, 925.7,
              shown([-.812, .959], [-.5, 0, .5], ["-0.5", "0.0", "0.5"], size=12.5),
              shown([-1.009, 1.095], [-1, -.5, 0, .5, 1], ["-1.0", "-0.5", "0.0", "0.5", "1.0"], size=12.5))
for pts, c in [(E_GREEN, GREEN), (E_BLUE, BLUE), (E_PURPLE, PURPLE), (E_RED, RED), (E_ORANGE, ORANGE), (E_YELLOW, YELLOW)]:
    dots(pts, c, xa, ya, 8)
fig.add_trace(go.Scatter(x=E_FIT_X + E_FIT_X[::-1], y=E_FIT_HI + E_FIT_LO[::-1], fill="toself", mode="none", xaxis=xa, yaxis=ya,
                         hoverinfo="skip", fillcolor="rgba(90,90,90,0.48)"))
fig.add_trace(go.Scatter(x=E_FIT_X, y=E_FIT_Y, mode="lines", xaxis=xa, yaxis=ya, hoverinfo="skip",
                         line=dict(color="#333333", width=1.8)))
label(1055.7, 693, "r = -0.3 p < 0.0001", size=16.5, anchor="center")
label(1070, 957.3, "NE Score", size=16.5, anchor="center")
label(865, 803.3, "AR Score", size=16.5, anchor="center", angle=-90)
E_LEGEND = [(930, 1005, GREEN, "AR+\\NE-"), (930, 1031.7, RED, "AR+\\NE+"), (1032.3, 1005, YELLOW, "AR-\\NE+"),
            (1032.3, 1031.7, ORANGE, "AR-\\NElow"), (1142.7, 1005, PURPLE, "ARlow\\NE-"), (1142.7, 1031.7, BLUE, "AR-\\NE-")]
for cx, cy, c, t in E_LEGEND:
    fig.add_shape(type="circle", xref="paper", yref="paper", x0=(cx - 8.7) / W, x1=(cx + 8.7) / W, y0=1 - (cy + 8.7) / H,
                  y1=1 - (cy - 8.7) / H, fillcolor=c, opacity=.75, line=dict(width=0))
    label(cx + 22, cy, t, size=13.5, color="#333333")

# ---------- F
F_AXIS = "#777777"
xa, ya = axes(88.6, 1153, 683.2, 1747.8,
              shown([-24.13, 45], [-20, -10, 0, 10, 20, 30, 40], size=11, line=1.5, ticklen=7, color=F_AXIS, mirror=True),
              shown([-40.65, 25.9], [-40, -30, -20, -10, 0, 10, 20], size=11, line=1.5, ticklen=7, color=F_AXIS, mirror=True,
                    tickangle=-90))
for pts, c in [(F_GREEN, GREEN), (F_BLUE, BLUE), (F_PURPLE, PURPLE), (F_RED, RED), (F_ORANGE, ORANGE), (F_YELLOW, YELLOW)]:
    dots(pts, c, xa, ya, 10.5)
for pts, c in [(F_GREEN_HOL, GREEN), (F_BLUE_HOL, BLUE), (F_PURPLE_HOL, PURPLE), (F_RED_HOL, RED), (F_ORANGE_HOL, ORANGE),
               (F_YELLOW_HOL, YELLOW)]:
    dots(pts, c, xa, ya, 14, opacity=.9, symbol="triangle-up", edge="#444444")
F_LEGEND = [("AR-/NE-", BLUE), ("ARlow/NE-", PURPLE), ("AR+/NE-", GREEN), ("AR-/NE+", YELLOW), ("AR-/NElow", ORANGE), ("AR+/NE+", RED)]
for i, (t, c) in enumerate(F_LEGEND):
    cy = 1170.3 + i * 16.52
    rect(101, cy - 5, 111.6, cy + 5, c, line="#555555", opacity=.85)
    label(117, cy, t, size=13.8, color="#222222")
label(114.8, 1289.8, "TP53/RB1", size=13, color="#222222")
label(143, 1311.3, "HoL", size=13, color="#222222")
fig.add_shape(type="path", xref="paper", yref="paper", fillcolor="black", line=dict(width=0),
              path=f"M {126.9 / W} {1 - 1314 / H} L {134.9 / W} {1 - 1314 / H} L {130.9 / W} {1 - 1306 / H} Z")
label(385.7, 1791, "MDS Coordinate 1", size=13.5, anchor="center", color="#222222")
label(41.3, 1450.6, "MDS Coordinate 2", size=13.5, anchor="center", color="#222222", angle=-90)


# ---------- G, H
def stack_panel(x0, top, bottom, yr, yvals, percent, yname, name_x, ymid, row_y, leg_top):
    ticks = [f"{a}<br>{b}" for a, b in zip(RB1_LABELS, TP53_LABELS)]
    xo = shown([.41, 9.6], list(range(1, 10)), ticks, size=11.5, line=2, ticklen=3, color="#222222")
    yo = shown(yr, yvals, size=12.5, line=2, ticklen=3, color="#222222")
    xa, ya = axes(x0, top, 1233.2, bottom, xo, yo)
    totals = [sum(s[1][i] for s in STACK) for i in range(9)]
    for name, counts, col in STACK:
        vals = [100 * c / t for c, t in zip(counts, totals)] if percent else counts
        fig.add_trace(go.Bar(x=list(range(1, 10)), y=vals, width=.7, xaxis=xa, yaxis=ya, hoverinfo="skip",
                             marker=dict(color=col, line=dict(width=0))))
    label(850.5, row_y[0], "RB1", size=13, anchor="right")
    label(850.5, row_y[1], "TP53", size=13, anchor="right")
    label(name_x, ymid, yname, size=16.5, anchor="center", angle=-90)
    for i, (name, _, col) in enumerate(STACK[::-1]):
        rect(1261.3, leg_top + i * 28, 1286.7, leg_top + 25.6 + i * 28, col)
        label(1296.8, leg_top + 13.6 + i * 28, name, size=12.5)


stack_panel(850.2, 1088, 1385.7, [0, 100], [0, 25, 50, 75, 100], True, "percentage of tumors", 809, 1236.7, (1399, 1418), 1158.7)
stack_panel(843.1, 1438.3, 1735.7, [0, 72], [0, 20, 40, 60], False, "count of tumors", 808.5, 1586.7, (1750, 1768), 1508.7)

fig.update_layout(width=W, height=H, margin=dict(l=0, r=0, t=0, b=0, pad=0, autoexpand=False), autosize=False, showlegend=False,
                  plot_bgcolor="white", paper_bgcolor="white", font=dict(family=FONT))
fig.write_html("out.html", config={"displayModeBar": False}, post_script="document.body.style.margin='0';")
